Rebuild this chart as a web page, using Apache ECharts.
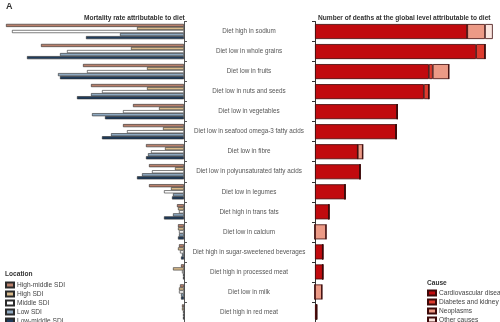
<!DOCTYPE html>
<html><head><meta charset="utf-8">
<script src="https://cdn.jsdelivr.net/npm/echarts@6/dist/echarts.min.js"></script>
<style>html,body{margin:0;padding:0;background:#fff}#c{width:500px;height:322px}</style>
</head><body><div id="c"></div>
<script>
const categories = ['Diet high in sodium','Diet low in whole grains','Diet low in fruits','Diet low in nuts and seeds','Diet low in vegetables','Diet low in seafood omega-3 fatty acids','Diet low in fibre','Diet low in polyunsaturated fatty acids','Diet low in legumes','Diet high in trans fats','Diet low in calcium','Diet high in sugar-sweetened beverages','Diet high in processed meat','Diet low in milk','Diet high in red meat'];
// Mortality rate attributable to diet (per 100 000)
const highMiddleSDI = [178,143,101,93,51,61,38,35,35,7,6,5,3,4,2];
const highSDI       = [47,53,37,37,25,21,19,9,13,6,6,6,11,5,2];
const middleSDI     = [172,117,97,82,61,57,33,32,20,5,5,4,2,5,1];
const lowSDI        = [64,124,126,93,92,73,36,42,11,11,5,2,1,3,1];
const lowMiddleSDI  = [98,157,124,107,79,82,38,47,12,20,6,3,1,3,1];
// Number of deaths (thousands)
const cardiovascular = [2740,2900,2050,1960,1480,1460,770,810,540,250,0,140,140,0,30];
const diabetesKidney = [0,160,70,90,0,0,0,0,0,0,0,0,0,0,0];
const neoplasms      = [320,0,290,0,0,0,90,0,0,0,200,0,0,125,0];
const otherCauses    = [140,0,0,0,0,0,0,0,0,0,0,0,0,0,0];

const FONT = '"Liberation Sans", Arial, sans-serif';
const locSeries = [
  ['High-middle SDI', highMiddleSDI, '#b9806c'],
  ['High SDI', highSDI, '#d9bb8c'],
  ['Middle SDI', middleSDI, '#ffffff'],
  ['Low SDI', lowSDI, '#8ea9c1'],
  ['Low-middle SDI', lowMiddleSDI, '#1f3c5c']
];
const causeSeries = [
  ['Cardiovascular diseases', cardiovascular, '#c10a0e'],
  ['Diabetes and kidney diseases', diabetesKidney, '#de3b2e'],
  ['Neoplasms', neoplasms, '#ec9a86'],
  ['Other causes', otherCauses, '#fbe6e0']
];
const series = [];
locSeries.forEach(([n,d,c]) => series.push({
  name:n, type:'bar', xAxisIndex:0, yAxisIndex:0, data:d,
  barCategoryGap:'24%', barGap:'0%',
  itemStyle:{color:c, borderColor:'#2a2a2a', borderWidth:0.6}
}));
causeSeries.forEach(([n,d,c]) => series.push({
  name:n, type:'bar', xAxisIndex:1, yAxisIndex:1, data:d, stack:'deaths',
  barWidth:15,
  itemStyle:{color:c, borderColor:'#3d0a0a', borderWidth:0.8}
}));
const titleStyle = {fontSize:6.6, fontWeight:'bold', color:'#333', fontFamily:FONT};
const legendText = {fontSize:6.6, lineHeight:8, color:'#444', fontFamily:FONT, padding:[0,0,0,-2]};
const chart = echarts.init(document.getElementById('c'), null, {renderer:'canvas'});
chart.setOption({
  animation:false,
  textStyle:{fontFamily:FONT},
  title:[
    {text:'A', left:1, top:-3, textStyle:{fontSize:9, fontWeight:'bold', color:'#333', fontFamily:FONT}},
    {text:'Mortality rate attributable to diet', left:79, top:10, textStyle:titleStyle},
    {text:'Number of deaths at the global level attributable to diet', left:313, top:10, textStyle:titleStyle},
    {text:'Location', left:0, top:266, textStyle:titleStyle},
    {text:'Cause', left:422, top:275, textStyle:titleStyle}
  ],
  legend:[
    {data:locSeries.map(s=>s[0]), orient:'vertical', left:0, top:276, height:100, icon:'rect', itemWidth:8, itemHeight:5, itemGap:1,
     textStyle:legendText},
    {data:causeSeries.map(s=>s[0]), orient:'vertical', left:422, top:284, height:100, icon:'rect', itemWidth:8, itemHeight:5, itemGap:1,
     textStyle:legendText}
  ],
  grid:[
    {left:4, top:21.5, width:180, height:309},
    {left:315, top:21.5, width:180, height:309}
  ],
  xAxis:[
    {gridIndex:0, type:'value', inverse:true, min:0, max:180, show:false},
    {gridIndex:1, type:'value', min:0, max:3240, show:false}
  ],
  yAxis:[
    {gridIndex:0, type:'category', data:categories, inverse:true, position:'right',
     axisLine:{show:true, lineStyle:{color:'#555', width:1}},
     axisTick:{show:true, length:3, lineStyle:{color:'#555'}},
     axisLabel:{show:true, margin:65, align:'center', fontSize:6.3, color:'#555', fontFamily:FONT}},
    {gridIndex:1, type:'category', data:categories, inverse:true, position:'left',
     axisLine:{show:true, lineStyle:{color:'#333', width:1}},
     axisTick:{show:true, length:3, lineStyle:{color:'#333'}},
     axisLabel:{show:false}}
  ],
  series
});
</script></body></html>
